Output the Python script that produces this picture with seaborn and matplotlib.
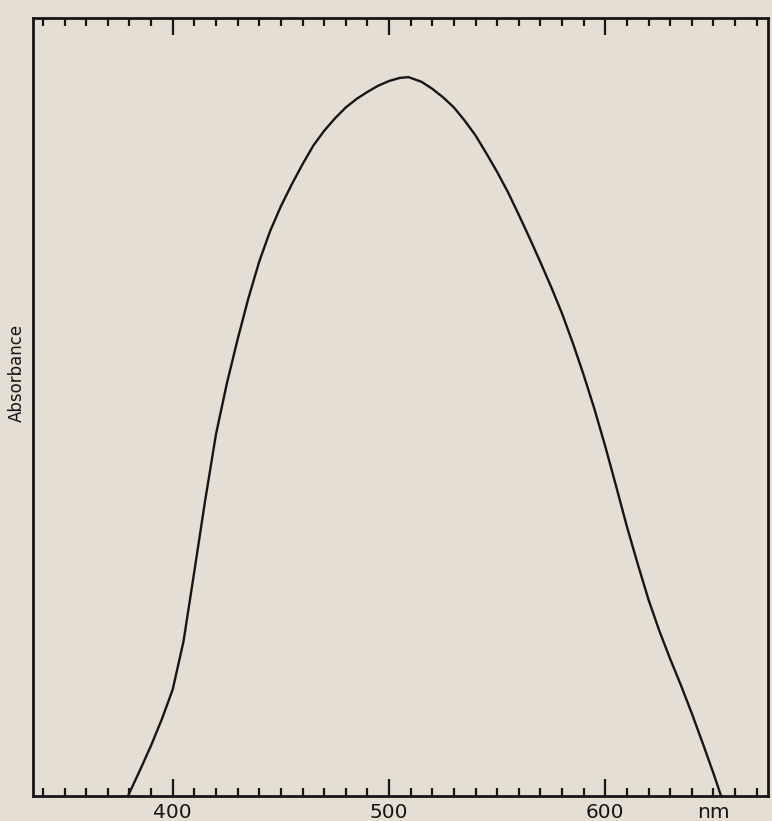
import numpy as np
import matplotlib.pyplot as plt
import seaborn as sns
from matplotlib.ticker import MultipleLocator

# Absorption spectrum (absorbance in arbitrary units, 0-1)
wavelength = [379.3, 385, 390, 395, 400, 405, 410, 415, 420, 425, 430, 435, 440,
              445, 450, 455, 460, 465, 470, 475, 480, 485, 490, 495, 500, 505,
              509, 515, 520, 525, 530, 535, 540, 545, 550, 555, 560, 565, 570,
              575, 580, 585, 590, 595, 600, 605, 610, 615, 620, 625, 630, 635,
              640, 645, 650, 653.5]
absorbance = [0.0, 0.034, 0.065, 0.099, 0.137, 0.199, 0.289, 0.380, 0.465, 0.530,
              0.587, 0.640, 0.687, 0.726, 0.758, 0.786, 0.812, 0.836, 0.855, 0.871,
              0.885, 0.896, 0.905, 0.913, 0.919, 0.923, 0.924, 0.918, 0.909, 0.898,
              0.885, 0.868, 0.849, 0.826, 0.802, 0.776, 0.747, 0.717, 0.686, 0.654,
              0.620, 0.582, 0.541, 0.497, 0.449, 0.398, 0.346, 0.298, 0.252, 0.212,
              0.176, 0.142, 0.106, 0.068, 0.029, 0.0]

major_ticks = [400, 500, 600]
paper = '#e4ded3'
ink = '#161616'

sns.set_style("ticks")
plt.rcParams['font.family'] = ['DejaVu Sans']

fig = plt.figure(figsize=(7.72, 8.21), dpi=100, facecolor=paper)
# axes box in pixels: left 33, right 768, bottom 796, top 18
ax = fig.add_axes([33 / 772, 1 - 796 / 821, 735 / 772, 778 / 821])
ax.set_facecolor(paper)

sns.lineplot(x=wavelength, y=absorbance, ax=ax, color=ink, linewidth=1.7)

ax.set_xlim(335.4, 675.2)
ax.set_ylim(0, 1)

# Ticks: minor every 10 nm, major at 400/500/600, on top and bottom, inward
ax.set_xticks(major_ticks)
ax.set_xticklabels([str(t) for t in major_ticks])
ax.xaxis.set_minor_locator(MultipleLocator(10))
ax.tick_params(axis='x', which='major', direction='in', length=12.5, width=1.6,
               top=True, bottom=True, labelsize=14.5, pad=5, colors=ink)
ax.tick_params(axis='x', which='minor', direction='in', length=5.5, width=1.6,
               top=True, bottom=True, colors=ink)
ax.set_yticks([])

for side in ['left', 'right', 'top', 'bottom']:
    ax.spines[side].set_visible(True)
    ax.spines[side].set_linewidth(2)
    ax.spines[side].set_color(ink)

ax.set_xlabel('')
ax.set_ylabel('Absorbance', fontsize=12, color=ink)
ax.yaxis.set_label_coords(-0.01, 0.544)

ax.annotate('nm', xy=(650, 0), xycoords=('data', 'axes fraction'),
            xytext=(0, -5), textcoords='offset points',
            ha='center', va='top', fontsize=14.5, color=ink)

fig.savefig('out.png', dpi=100, facecolor=paper)
